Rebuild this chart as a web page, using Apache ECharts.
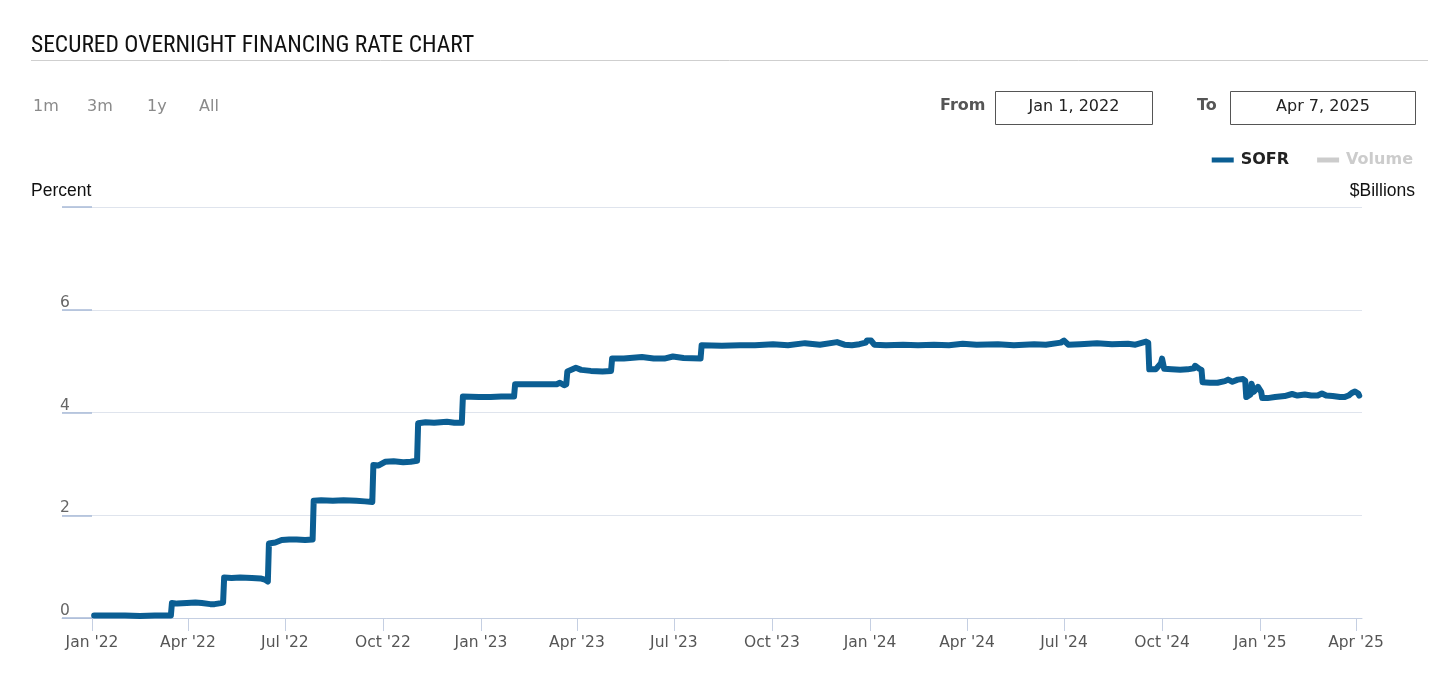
<!DOCTYPE html>
<html>
<head>
<meta charset="utf-8">
<script src="https://cdn.jsdelivr.net/npm/echarts@6/dist/echarts.min.js"></script>
<style>
  html, body { margin: 0; padding: 0; background: #fff; }
  #chart { width: 1456px; height: 689px; }
</style>
</head>
<body>
<div id="chart"></div>
<script>
// ---- Data ----
const titleText = 'SECURED OVERNIGHT FINANCING RATE CHART';
const rangeButtons = ['1m', '3m', '1y', 'All'];
const fromDate = 'Jan 1, 2022';
const toDate = 'Apr 7, 2025';
const seriesNames = ['SOFR', 'Volume'];
const yTicks = [0, 2, 4, 6, 8];
const xTickDates = ['2022-01-01','2022-04-01','2022-07-01','2022-10-01','2023-01-01','2023-04-01','2023-07-01','2023-10-01','2024-01-01','2024-04-01','2024-07-01','2024-10-01','2025-01-01','2025-04-01'];
const monthNames = ['Jan','Feb','Mar','Apr','May','Jun','Jul','Aug','Sep','Oct','Nov','Dec'];

const sofrDates = [
 '2022-01-03','2022-01-20','2022-02-01','2022-02-15','2022-03-01','2022-03-16',
 '2022-03-17','2022-03-22','2022-03-31','2022-04-08','2022-04-14','2022-04-22','2022-04-26','2022-05-02','2022-05-04',
 '2022-05-05','2022-05-12','2022-05-20','2022-05-31','2022-06-08','2022-06-13','2022-06-15',
 '2022-06-16','2022-06-22','2022-06-28','2022-07-05','2022-07-12','2022-07-20','2022-07-27',
 '2022-07-28','2022-08-04','2022-08-15','2022-08-25','2022-09-06','2022-09-14','2022-09-21',
 '2022-09-22','2022-09-27','2022-10-03','2022-10-11','2022-10-20','2022-10-27','2022-11-02',
 '2022-11-03','2022-11-10','2022-11-18','2022-11-30','2022-12-07','2022-12-14',
 '2022-12-15','2022-12-30','2023-01-10','2023-01-20','2023-02-01',
 '2023-02-02','2023-02-15','2023-03-01','2023-03-13','2023-03-16','2023-03-20','2023-03-22',
 '2023-03-23','2023-03-31','2023-04-05','2023-04-14','2023-04-25','2023-05-03',
 '2023-05-04','2023-05-15','2023-06-01','2023-06-12','2023-06-22','2023-06-30','2023-07-10','2023-07-26',
 '2023-07-27','2023-08-15','2023-09-01','2023-09-15','2023-10-02','2023-10-16','2023-11-01','2023-11-15',
 '2023-12-01','2023-12-08','2023-12-15','2023-12-22','2023-12-28','2023-12-29','2024-01-02','2024-01-05',
 '2024-01-16','2024-02-01','2024-02-15','2024-03-01','2024-03-15','2024-03-28','2024-04-10','2024-04-30',
 '2024-05-15','2024-06-03','2024-06-14','2024-06-28','2024-07-01','2024-07-05','2024-07-16','2024-08-01',
 '2024-08-15','2024-08-30','2024-09-06','2024-09-16','2024-09-18',
 '2024-09-19','2024-09-25','2024-09-30','2024-10-01','2024-10-03','2024-10-10','2024-10-18','2024-10-25',
 '2024-10-31','2024-11-01','2024-11-05','2024-11-07',
 '2024-11-08','2024-11-15','2024-11-22','2024-11-29','2024-12-02','2024-12-06','2024-12-11','2024-12-16','2024-12-18',
 '2024-12-19','2024-12-20','2024-12-23','2024-12-24','2024-12-26','2024-12-27','2024-12-30','2024-12-31',
 '2025-01-02','2025-01-03','2025-01-08','2025-01-15','2025-01-24','2025-01-31','2025-02-05','2025-02-12',
 '2025-02-18','2025-02-24','2025-02-28','2025-03-04','2025-03-10','2025-03-17','2025-03-21','2025-03-25',
 '2025-03-28','2025-03-31','2025-04-01','2025-04-03','2025-04-04'
];
const sofrValues = [
 0.05,0.05,0.05,0.04,0.05,0.05,
 0.29,0.28,0.29,0.30,0.29,0.27,0.27,0.29,0.30,
 0.79,0.78,0.79,0.78,0.77,0.74,0.71,
 1.45,1.47,1.52,1.53,1.53,1.52,1.53,
 2.28,2.29,2.28,2.29,2.28,2.27,2.26,
 2.98,2.97,3.04,3.05,3.03,3.04,3.06,
 3.79,3.81,3.80,3.82,3.80,3.80,
 4.31,4.30,4.30,4.31,4.31,
 4.55,4.55,4.55,4.55,4.58,4.53,4.55,
 4.80,4.87,4.83,4.81,4.80,4.81,
 5.05,5.05,5.08,5.05,5.05,5.09,5.06,5.05,
 5.31,5.30,5.31,5.31,5.33,5.31,5.35,5.32,
 5.37,5.32,5.31,5.33,5.36,5.40,5.40,5.32,
 5.31,5.32,5.31,5.32,5.31,5.34,5.32,5.33,
 5.31,5.33,5.32,5.36,5.40,5.32,5.33,5.35,
 5.33,5.34,5.32,5.38,5.36,
 4.84,4.84,4.96,5.05,4.85,4.84,4.83,4.84,
 4.86,4.91,4.85,4.83,
 4.59,4.58,4.58,4.61,4.64,4.60,4.64,4.65,4.62,
 4.30,4.29,4.35,4.56,4.40,4.38,4.50,4.49,
 4.40,4.28,4.28,4.30,4.32,4.36,4.33,4.35,
 4.33,4.33,4.37,4.33,4.32,4.30,4.30,4.33,
 4.38,4.41,4.39,4.37,4.33
];

// ---- Build ----
function ts(s) { const p = s.split('-').map(Number); return Date.UTC(p[0], p[1]-1, p[2]); }
const DAY = 86400000;
const sofrData = sofrDates.map((d, i) => [ts(d), sofrValues[i]]);
const xTicks = xTickDates.map(ts);
const xMin = ts('2022-01-01') - 28.15 * DAY;
const xMax = ts('2025-04-07') - 0.4 * DAY;

const axisFont = 'DejaVu Sans, Verdana, sans-serif';
const chart = echarts.init(document.getElementById('chart'), null, { renderer: 'canvas' });

const graphics = [
  { type: 'text', left: 31, top: 34, style: { text: titleText, font: 'normal 23.5px "Liberation Sans Narrow", "Roboto Condensed", "Arial Narrow", sans-serif', fill: '#111' } },
  { type: 'line', shape: { x1: 31, y1: 60.5, x2: 1428, y2: 60.5 }, style: { stroke: '#cfcfcf', lineWidth: 1 } },
  { type: 'text', left: 940, top: 98, style: { text: 'From', font: 'bold 16px ' + axisFont, fill: '#555' } },
  { type: 'rect', shape: { x: 995.5, y: 91.5, width: 157, height: 33 }, style: { fill: '#fff', stroke: '#555', lineWidth: 1 } },
  { type: 'text', x: 1074, y: 106.5, style: { text: fromDate, font: 'normal 16px ' + axisFont, fill: '#222', align: 'center', verticalAlign: 'middle' } },
  { type: 'text', left: 1197, top: 98, style: { text: 'To', font: 'bold 16px ' + axisFont, fill: '#555' } },
  { type: 'rect', shape: { x: 1230.5, y: 91.5, width: 185, height: 33 }, style: { fill: '#fff', stroke: '#555', lineWidth: 1 } },
  { type: 'text', x: 1323, y: 106.5, style: { text: toDate, font: 'normal 16px ' + axisFont, fill: '#222', align: 'center', verticalAlign: 'middle' } },
  { type: 'text', left: 31, top: 182, style: { text: 'Percent', font: 'normal 17.5px "Liberation Sans", Arial, sans-serif', fill: '#111' } },
  { type: 'text', x: 1415, y: 191, style: { text: '$Billions', font: 'normal 17.5px "Liberation Sans", Arial, sans-serif', fill: '#111', align: 'right', verticalAlign: 'middle' } }
];
const btnX = [33, 87, 147, 199];
rangeButtons.forEach((b, i) => {
  graphics.push({ type: 'text', left: btnX[i], top: 99, style: { text: b, font: 'normal 16px ' + axisFont, fill: '#8a8a8a' } });
});

chart.setOption({
  animation: false,
  backgroundColor: '#fff',
  textStyle: { fontFamily: axisFont },
  graphic: graphics,
  legend: {
    right: 38, top: 147,
    icon: 'rect', itemWidth: 22, itemHeight: 5, itemGap: 28,
    inactiveColor: '#cccccc',
    selected: { 'SOFR': true, 'Volume': false },
    textStyle: { fontFamily: axisFont, fontSize: 16, fontWeight: 'bold', color: '#222', padding: [0, 0, 0, 2] },
    data: seriesNames
  },
  grid: { left: 62, right: 94, top: 207, bottom: 71, containLabel: false },
  xAxis: {
    type: 'value',
    min: xMin, max: xMax,
    axisLine: { show: true, lineStyle: { color: '#c5cfe2', width: 1 } },
    axisTick: { show: true, length: 13, lineStyle: { color: '#c5cfe2' }, customValues: xTicks },
    axisLabel: {
      customValues: xTicks, margin: 17, fontSize: 15.5, color: '#555', fontFamily: axisFont,
      formatter: function (v) { const d = new Date(v); return monthNames[d.getUTCMonth()] + " '" + String(d.getUTCFullYear()).slice(2); }
    },
    splitLine: { show: false }
  },
  yAxis: {
    type: 'value', min: 0, max: 8, interval: 2,
    axisLine: { show: false },
    axisTick: { show: true, inside: true, length: 30, lineStyle: { color: '#a9bbd8', width: 1.5 } },
    axisLabel: {
      inside: true, margin: -2, fontSize: 15.5, color: '#666', fontFamily: axisFont,
      verticalAlign: 'bottom', lineHeight: 14, padding: [0, 0, 0, 0],
      formatter: function (v) { return v === 8 ? '' : String(v); }
    },
    splitLine: { show: true, lineStyle: { color: '#dfe4ed', width: 1 } }
  },
  series: [
    {
      name: 'SOFR', type: 'line', data: sofrData, showSymbol: false,
      color: '#0b5e93',
      lineStyle: { width: 6, color: '#0b5e93', cap: 'round', join: 'round' }
    },
    {
      name: 'Volume', type: 'line', data: [], showSymbol: false, color: '#cccccc',
      lineStyle: { width: 3, color: '#cccccc' }
    }
  ]
});
</script>
</body>
</html>
